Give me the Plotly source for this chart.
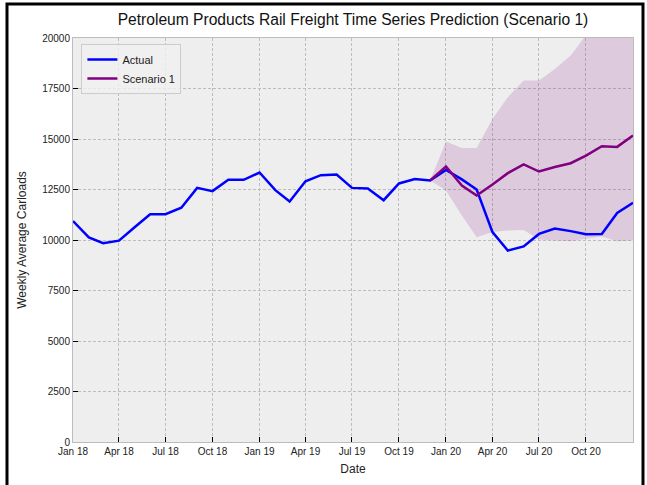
import plotly.graph_objects as go

# monthly dates, Jan 2018 - Jan 2021
dates = [f"{y}-{m:02d}-01" for y in (2018, 2019, 2020) for m in range(1, 13)] + ["2021-01-01"]

actual = [10940, 10130, 9840, 9970, 10620, 11270, 11280, 11600, 12580, 12420,
          12980, 12980, 13340, 12470, 11910, 12910, 13210, 13240, 12580, 12550,
          11970, 12800, 13020, 12950, 13470, 13000, 12500, 10390, 9480, 9680,
          10300, 10570, 10440, 10290, 10300, 11340, 11840]

scen_dates = dates[23:]
scenario = [12950, 13640, 12700, 12200, 12750, 13310, 13740, 13390, 13610,
            13800, 14180, 14640, 14610, 15170]
upper = [12950, 14880, 14560, 14560, 16000, 17070, 17900, 17900, 18470,
         19130, 20150, 20800, 21400, 22000]
lower = [12950, 12450, 11210, 10140, 10390, 10470, 10500, 10020, 9980,
         9940, 10060, 10170, 9940, 9980]

tick_vals = ["2018-01-01", "2018-04-01", "2018-07-01", "2018-10-01",
             "2019-01-01", "2019-04-01", "2019-07-01", "2019-10-01",
             "2020-01-01", "2020-04-01", "2020-07-01", "2020-10-01"]
tick_text = ["Jan 18", "Apr 18", "Jul 18", "Oct 18", "Jan 19", "Apr 19",
             "Jul 19", "Oct 19", "Jan 20", "Apr 20", "Jul 20", "Oct 20"]

fig = go.Figure()

# confidence band
fig.add_trace(go.Scatter(x=scen_dates, y=lower, mode="lines",
                         line=dict(width=0), showlegend=False, hoverinfo="skip"))
fig.add_trace(go.Scatter(x=scen_dates, y=upper, mode="lines",
                         line=dict(width=0), fill="tonexty",
                         fillcolor="rgba(128,0,128,0.15)",
                         showlegend=False, hoverinfo="skip"))

fig.add_trace(go.Scatter(x=dates, y=actual, mode="lines", name="Actual",
                         line=dict(color="#0000ff", width=2.5)))
fig.add_trace(go.Scatter(x=scen_dates, y=scenario, mode="lines", name="Scenario 1",
                         line=dict(color="#800080", width=2.5)))

font = "Liberation Sans, Arial, Helvetica, sans-serif"

W, H = 647, 485
l, t = 73, 38
r = W - 633
b = H - 442
pw, ph = W - l - r, H - t - b

def px(x):
    return (x - l) / pw

def py(y):
    return (H - b - y) / ph

# black frame around the image (open at the bottom)
fig.add_shape(type="rect", xref="paper", yref="paper", layer="above",
              x0=px(7), x1=px(643), y0=py(600), y1=py(4),
              line=dict(color="black", width=3), fillcolor="rgba(0,0,0,0)")

axis_common = dict(
    showline=True, linecolor="#bcbcbc", linewidth=1, mirror=True,
    showgrid=True, gridcolor="#bdbdbd", griddash="3px,2px", gridwidth=0.7,
    ticks="inside", ticklen=5, tickcolor="black", tickwidth=1,
    tickfont=dict(size=10, color="#222222", family=font),
    zeroline=False, automargin=False,
)

fig.update_layout(
    width=W, height=H,
    margin=dict(l=l, r=r, t=t, b=b, autoexpand=False),
    paper_bgcolor="white",
    plot_bgcolor="#eeeeee",
    font=dict(family=font, color="#222222"),
    title=dict(text="Petroleum Products Rail Freight Time Series Prediction (Scenario 1)",
               x=px(353), xref="paper", xanchor="center",
               y=1 - 20 / H, yref="container", yanchor="middle",
               font=dict(size=15.6, color="#111111", family=font)),
    xaxis=dict(axis_common, range=["2018-01-01", "2021-01-01"],
               tickvals=tick_vals, ticktext=tick_text,
               title=dict(text="Date", font=dict(size=12), standoff=8)),
    yaxis=dict(axis_common, range=[0, 20000], tick0=0, dtick=2500,
               tickformat="d",
               title=dict(text="Weekly Average Carloads", font=dict(size=12), standoff=12)),
    legend=dict(x=0.015, y=0.985, xanchor="left", yanchor="top",
                traceorder="normal", tracegroupgap=0,
                bgcolor="rgba(240,240,240,0.8)", bordercolor="#cccccc", borderwidth=1,
                font=dict(size=11, family=font)),
    showlegend=True,
)

# drop the default page margin so the figure sits at the window origin
fig.write_html("out.html", config={"displayModeBar": False},
               post_script="document.body.style.margin='0';")
